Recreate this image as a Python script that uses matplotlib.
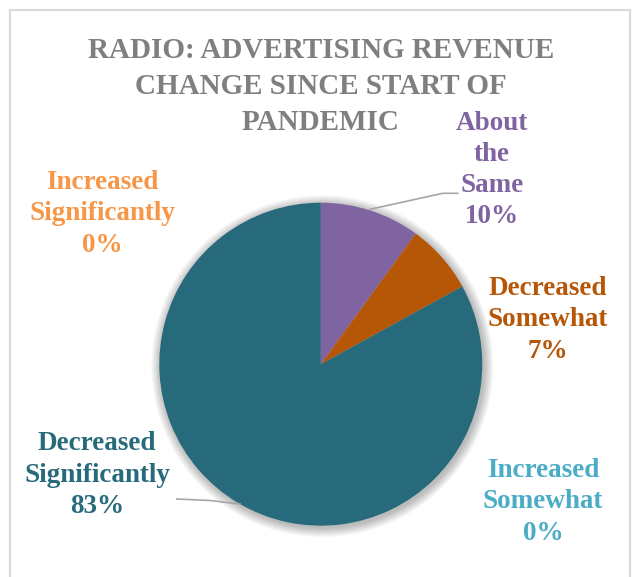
import numpy as np
import matplotlib
matplotlib.use("Agg")
import matplotlib.pyplot as plt

# survey responses: change in radio ad revenue since the pandemic began
categories = ["Increased Significantly", "Increased Somewhat", "About the Same",
              "Decreased Somewhat", "Decreased Significantly"]
shares = [0, 0, 10, 7, 83]
slice_colors = ["#F79646", "#4BACC6", "#8064A2", "#B65708", "#276A7C"]
title_lines = ["RADIO: ADVERTISING REVENUE", "CHANGE SINCE START OF", "PANDEMIC"]

W, H = 633, 577
fig = plt.figure(figsize=(W / 100, H / 100), dpi=100)
ax = fig.add_axes([0, 0, 1, 1])


def py(y):
    # positions are measured from the top edge
    return H - y


# light chart-area frame
frame = plt.Rectangle((9.5, py(600)), 620.5, 590.5, fill=False, ec="#D9D9D9", lw=1.5)
ax.add_patch(frame)

cx, cy, r = 320.8, py(364.2), 161.5

# soft drop shadow behind the pie
for k in range(14):
    ax.add_patch(plt.Circle((cx + 1.5, cy - 2.0), r + 0.5 + k * 0.7,
                            color="black", alpha=0.02, lw=0, zorder=1))

ax.pie(shares, colors=slice_colors, startangle=90, counterclock=False,
       center=(cx, cy), radius=r, frame=True,
       wedgeprops=dict(linewidth=0, zorder=2))
ax.set_xlim(0, W)
ax.set_ylim(0, H)
ax.set_aspect("equal")
ax.axis("off")

font = dict(family="Liberation Serif", weight="bold")

for i, line in enumerate(title_lines):
    ax.text(321, py(50 + 36 * i), line, ha="center", va="center",
            color="#7F7F7F", fontsize=21, zorder=5, **font)

# label positions (centre of each text block)
label_pos = {
    "Increased Significantly": (102, 214),
    "Increased Somewhat": (543, 502),
    "About the Same": (492, 170),
    "Decreased Somewhat": (548, 320),
    "Decreased Significantly": (97, 475),
}
for name, v, c in zip(categories, shares, slice_colors):
    words = name.split()
    if name == "About the Same":
        lines = words
    else:
        lines = [" ".join(words[:-1]), words[-1]]
    txt = "\n".join(lines + [f"{v:.0f}%"])
    x, y = label_pos[name]
    ax.text(x, py(y), txt, ha="center", va="center", color=c, fontsize=19.5,
            linespacing=1.33, zorder=5, **font)

# leader lines
lc = "#A6A6A6"
ax.plot([457.7, 442.7, 370], [py(193.3), py(193.3), py(209.3)], color=lc, lw=1.2, zorder=4)
ax.plot([176.7, 210, 240], [py(499), py(500.5), py(504)], color=lc, lw=1.2, zorder=4)

fig.savefig("out.png", dpi=100)
